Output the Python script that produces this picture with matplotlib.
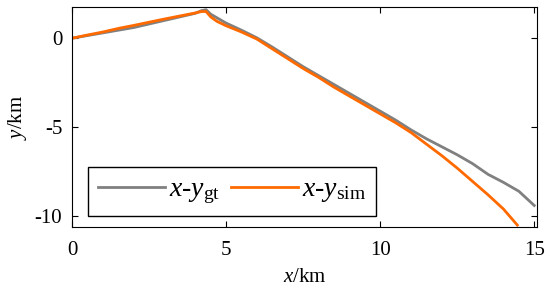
import matplotlib.pyplot as plt

plt.rcParams.update({'font.family': 'serif',
                     'font.serif': ['Liberation Serif', 'DejaVu Serif'],
                     'mathtext.fontset': 'custom',
                     'mathtext.rm': 'Liberation Serif',
                     'mathtext.it': 'Liberation Serif:italic',
                     'font.size': 15})

x_gt = [0, 0.5, 1, 1.5, 2, 2.5, 3, 3.5, 4, 4.2, 4.35, 4.5, 4.7, 5, 5.5, 6, 6.5, 7, 7.5, 8, 8.5, 9, 9.5,
        10, 10.5, 11, 11.5, 12, 12.5, 13, 13.5, 14, 14.5, 15]
y_gt = [0, 0.15, 0.3, 0.45, 0.6, 0.8, 1.0, 1.2, 1.4, 1.55, 1.6, 1.35, 1.15, 0.85, 0.45, 0.02, -0.5, -1.05,
        -1.6, -2.1, -2.6, -3.1, -3.6, -4.1, -4.6, -5.15, -5.65, -6.1, -6.55, -7.05, -7.65, -8.1, -8.6, -9.4]

x_sim = [0, 0.5, 1, 1.5, 2, 2.5, 3, 3.5, 4, 4.2, 4.35, 4.5, 4.7, 5, 5.5, 6, 6.5, 7, 7.5, 8, 8.5, 9, 9.5,
         10, 10.5, 11, 11.5, 12, 12.5, 13, 13.5, 14, 14.45]
y_sim = [0, 0.18, 0.35, 0.55, 0.72, 0.9, 1.08, 1.25, 1.42, 1.5, 1.5, 1.2, 0.95, 0.7, 0.35, -0.05, -0.6, -1.15,
         -1.7, -2.2, -2.75, -3.25, -3.75, -4.25, -4.75, -5.3, -5.95, -6.6, -7.3, -8.05, -8.8, -9.6, -10.5]

fig = plt.figure(figsize=(5.5, 2.95), dpi=100)
ax = fig.add_axes([0.131, 0.231, 0.846, 0.745])

ax.plot(x_gt, y_gt, color='#808080', linewidth=2, label=r'$x$-$y_{\mathrm{gt}}$')
ax.plot(x_sim, y_sim, color='#ff6a00', linewidth=2, label=r'$x$-$y_{\mathrm{sim}}$')

ax.set_xlim(0, 15.1)
ax.set_ylim(-10.6, 1.75)
ax.set_xticks([0, 5, 10, 15])
ax.set_yticks([0, -5, -10])
ax.set_yticklabels(['0', '-5', '-10'])
ax.tick_params(direction='in', length=4, top=True, right=True, labeltop=False, labelright=False)
ax.tick_params(axis='x', pad=10)
ax.tick_params(axis='y', pad=7)
ax.set_xlabel(r'$x$/km', labelpad=6)
ax.set_ylabel(r'$y$/km', labelpad=4)

leg = ax.legend(loc='lower left', ncol=2, fancybox=False, edgecolor='k', framealpha=1,
                fontsize=20, handlelength=2.4, handletextpad=0.15, columnspacing=0.4,
                borderaxespad=0.0, bbox_to_anchor=(0.035, 0.05), borderpad=0.35)
leg.get_frame().set_linewidth(1)

fig.savefig('out.png', dpi=100)
